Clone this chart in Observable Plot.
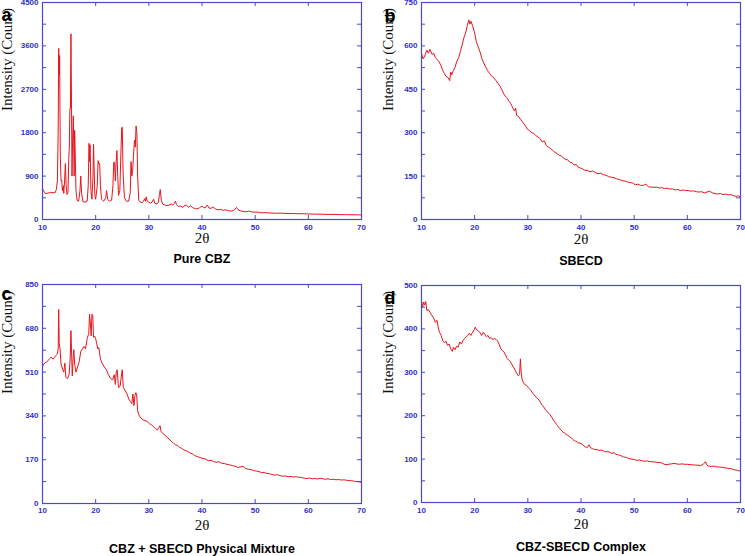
<!DOCTYPE html>
<html><head><meta charset="utf-8">
<script src="https://cdn.jsdelivr.net/npm/d3@7"></script>
<script src="https://cdn.jsdelivr.net/npm/@observablehq/plot@0.6"></script>
<style>
body{margin:0;background:#fff;}
#chart{position:relative;width:745px;height:556px;overflow:hidden;background:#fff;}
#chart svg{position:absolute;overflow:visible;}
</style></head><body><div id="chart"></div>
<script>
// ---- Data: [2θ (degrees), intensity (count)] ----
const pureCbz = [[10,640],[10.2,600],[10.5,540],[11,545],[11.5,560],[12,555],[12.4,560],[12.6,620],[12.8,800],[12.95,1800],[13.05,3550],[13.15,3000],[13.22,3400],[13.35,1300],[13.5,800],[13.6,820],[13.75,600],[13.9,700],[14,540],[14.15,800],[14.3,1160],[14.45,700],[14.6,520],[14.8,560],[14.95,1300],[15.05,1500],[15.15,2300],[15.25,2300],[15.35,3850],[15.45,2500],[15.55,900],[15.65,1600],[15.8,2150],[15.95,900],[16.05,1850],[16.15,1400],[16.3,600],[16.5,400],[16.8,380],[17.05,600],[17.2,900],[17.35,550],[17.6,370],[18,360],[18.4,380],[18.6,700],[18.75,1580],[18.85,1200],[18.95,1550],[19.1,600],[19.3,420],[19.5,900],[19.6,1560],[19.7,1100],[19.85,500],[20,420],[20.3,700],[20.45,1220],[20.6,1150],[20.75,1160],[20.9,700],[21.1,420],[21.5,380],[21.9,450],[22.05,600],[22.25,420],[22.6,380],[23,400],[23.25,700],[23.4,1190],[23.55,1180],[23.7,800],[23.85,1200],[24,1430],[24.15,900],[24.3,500],[24.55,600],[24.75,1400],[24.9,1900],[25,1915],[25.15,1000],[25.4,450],[25.8,380],[26.2,380],[26.5,550],[26.65,1200],[26.8,900],[26.95,1000],[27.1,1300],[27.3,1640],[27.45,1500],[27.6,1940],[27.75,1800],[27.9,900],[28.1,400],[28.4,360],[28.7,350],[29,380],[29.2,430],[29.35,380],[29.5,470],[29.7,380],[30,360],[30.3,340],[30.6,360],[30.9,420],[31.1,340],[31.5,320],[31.8,360],[32,520],[32.15,620],[32.35,400],[32.6,320],[33,300],[33.4,290],[33.8,300],[34.2,320],[34.5,300],[34.8,330],[35,380],[35.2,310],[35.6,270],[36,280],[36.4,250],[36.8,300],[37.1,290],[37.5,250],[37.8,290],[38.2,250],[38.6,230],[39,220],[39.5,240],[40,280],[40.3,250],[40.6,240],[41,300],[41.3,240],[41.7,230],[42.1,260],[42.5,220],[43,200],[43.5,210],[44,190],[44.5,200],[45,180],[45.5,175],[46,190],[46.5,250],[46.8,200],[47.2,180],[47.8,165],[48.3,160],[48.8,175],[49.3,160],[50,150],[50.5,155],[51,140],[52,140],[53,135],[54,130],[55,130],[56,125],[57,125],[58,120],[59,120],[60,115],[61,112],[62,110],[63,108],[64,105],[65,105],[66,100],[67,100],[68,98],[69,97],[70,95]];

const sbecd = [[10,573],[10.3,555],[10.6,565],[11,585],[11.3,575],[11.6,588],[12,570],[12.3,575],[12.6,560],[13,552],[13.3,545],[13.6,535],[14,515],[14.3,505],[14.6,495],[15,490],[15.3,480],[15.5,510],[15.7,500],[16,515],[16.3,525],[16.6,545],[17,560],[17.3,580],[17.6,600],[18,630],[18.3,645],[18.6,670],[18.9,690],[19.1,675],[19.3,685],[19.6,670],[20,645],[20.3,615],[20.6,600],[21,580],[21.3,560],[21.6,545],[22,530],[22.4,515],[22.8,505],[23.2,495],[23.6,490],[24,480],[24.4,470],[24.8,460],[25.2,445],[25.6,430],[26,422],[26.4,410],[26.8,400],[27.2,385],[27.5,375],[27.7,385],[27.9,360],[28.3,355],[28.7,345],[29.1,335],[29.5,325],[29.9,312],[30.3,308],[30.7,300],[31.1,298],[31.5,290],[31.9,285],[32.3,280],[32.7,268],[33.1,272],[33.5,255],[33.9,250],[34.3,245],[34.7,238],[35.1,232],[35.5,228],[35.9,222],[36.3,220],[36.7,212],[37.1,208],[37.5,206],[37.9,198],[38.3,196],[38.7,188],[39.1,190],[39.5,180],[39.9,178],[40.3,175],[40.7,170],[41.2,170],[41.7,165],[42.2,168],[42.7,162],[43.2,158],[43.7,160],[44.2,155],[44.7,153],[45.2,148],[45.7,146],[46.2,145],[46.7,140],[47.2,139],[47.7,134],[48.2,133],[48.7,130],[49.2,128],[49.7,126],[50.2,120],[50.7,122],[51.2,118],[51.7,118],[52.2,122],[52.7,113],[53.2,112],[53.7,111],[54.2,112],[54.7,109],[55.2,110],[55.7,107],[56.2,108],[56.7,105],[57.2,106],[57.7,102],[58.2,104],[58.7,100],[59.2,102],[59.7,100],[60.2,100],[60.7,98],[61.2,99],[61.7,96],[62.2,95],[62.7,96],[63.2,92],[63.7,95],[64.2,98],[64.7,92],[65.2,90],[65.7,88],[66.2,90],[66.7,86],[67.2,88],[67.7,85],[68.2,86],[68.7,82],[69.2,80],[69.6,82],[70,78]];

const physicalMixture = [[10,532],[10.4,545],[10.8,550],[11.2,558],[11.6,568],[12,560],[12.4,572],[12.8,580],[12.95,600],[13.05,753],[13.15,620],[13.3,600],[13.5,540],[13.8,520],[14,510],[14.2,545],[14.4,490],[14.7,485],[15,500],[15.2,560],[15.35,671],[15.45,600],[15.6,495],[15.75,560],[15.9,597],[16.05,540],[16.3,510],[16.6,530],[16.9,550],[17.2,590],[17.5,600],[17.8,610],[18.1,600],[18.4,640],[18.7,660],[18.85,735],[19,700],[19.15,650],[19.3,735],[19.45,730],[19.6,645],[19.8,650],[20,640],[20.2,620],[20.4,600],[20.6,605],[20.9,560],[21.2,545],[21.6,530],[22,520],[22.4,500],[22.8,485],[23.2,480],[23.5,500],[23.7,462],[23.9,515],[24.05,519],[24.3,450],[24.6,455],[24.8,490],[25,519],[25.2,450],[25.5,440],[25.9,425],[26.3,402],[26.6,395],[26.8,388],[27,425],[27.2,380],[27.4,420],[27.55,430],[27.7,425],[27.9,360],[28.1,345],[28.5,332],[28.9,325],[29.3,322],[29.7,318],[30.1,310],[30.5,305],[30.9,298],[31.3,290],[31.6,285],[31.9,295],[32.1,302],[32.3,280],[32.6,272],[33,266],[33.4,258],[33.8,250],[34.2,242],[34.6,235],[35,228],[35.4,225],[35.8,218],[36.2,214],[36.6,208],[37,205],[37.4,200],[37.8,196],[38.2,193],[38.6,186],[39,183],[39.4,180],[39.8,177],[40.2,175],[40.7,172],[41.2,166],[41.7,168],[42.2,163],[42.7,160],[43.2,162],[43.7,156],[44.2,155],[44.7,152],[45.2,150],[45.7,147],[46.2,145],[46.7,140],[47.2,142],[47.7,144],[48.2,136],[48.7,133],[49.2,132],[49.7,128],[50.2,126],[50.7,124],[51.2,120],[51.7,120],[52.2,117],[52.7,116],[53.2,112],[53.7,110],[54.2,112],[54.7,108],[55.2,106],[55.7,107],[56.2,104],[56.7,105],[57.2,103],[57.7,104],[58.2,102],[58.7,101],[59.2,98],[59.7,97],[60.2,99],[60.7,96],[61.2,97],[61.7,95],[62.2,98],[62.7,96],[63.2,94],[63.7,96],[64.2,93],[64.7,94],[65.2,92],[65.7,93],[66.2,91],[66.7,92],[67.2,90],[67.7,89],[68.2,88],[68.7,86],[69.2,85],[69.6,84],[70,82]];

const inclusionComplex = [[10,465],[10.2,450],[10.4,462],[10.6,455],[10.8,463],[11,442],[11.3,445],[11.6,438],[12,430],[12.3,425],[12.6,415],[12.9,420],[13.2,400],[13.4,392],[13.7,385],[14,373],[14.3,368],[14.6,372],[14.9,362],[15.2,365],[15.5,354],[15.8,348],[16,358],[16.3,352],[16.6,360],[16.9,358],[17.2,370],[17.5,365],[17.8,373],[18.1,378],[18.4,382],[18.7,385],[19,390],[19.3,385],[19.6,392],[19.9,398],[20.1,404],[20.4,398],[20.7,395],[21,392],[21.3,385],[21.6,392],[21.9,388],[22.2,382],[22.5,385],[22.8,378],[23.1,380],[23.4,375],[23.7,378],[24,376],[24.3,372],[24.6,365],[24.9,355],[25.2,350],[25.5,347],[25.8,340],[26.1,332],[26.4,328],[26.7,325],[27,318],[27.3,312],[27.6,305],[27.9,298],[28.2,292],[28.45,295],[28.6,331],[28.75,300],[28.9,285],[29.1,278],[29.4,272],[29.7,270],[30,266],[30.3,262],[30.6,258],[30.9,252],[31.2,248],[31.5,243],[31.8,240],[32.1,236],[32.4,230],[32.7,224],[33,220],[33.3,214],[33.6,210],[33.9,206],[34.2,202],[34.5,196],[34.8,190],[35.1,185],[35.4,180],[35.7,175],[36,170],[36.3,167],[36.6,162],[36.9,160],[37.2,157],[37.5,155],[37.8,152],[38.1,150],[38.4,146],[38.7,143],[39,141],[39.3,139],[39.6,137],[40,136],[40.4,132],[40.8,128],[41.2,127],[41.5,133],[41.8,126],[42.2,124],[42.6,122],[43,122],[43.4,120],[43.8,121],[44.2,119],[44.6,117],[45,117],[45.4,116],[45.8,113],[46.2,115],[46.6,111],[47,110],[47.5,108],[48,105],[48.5,104],[49,101],[49.5,100],[50,99],[50.5,97],[51,98],[51.5,96],[52,95],[52.5,96],[53,94],[53.5,94],[54,93],[54.5,92],[55,92],[55.5,89],[56,87],[56.5,88],[57,89],[57.5,90],[58,89],[58.5,88],[59,89],[59.5,88],[60,88],[60.5,87],[61,87],[61.5,86],[62,86],[62.5,85],[63,88],[63.4,94],[63.7,86],[64,84],[64.5,83],[65,84],[65.5,82],[66,82],[66.5,81],[67,80],[67.5,79],[68,78],[68.5,77],[69,75],[69.5,74],[70,72]];

const xTicks = [10, 20, 30, 40, 50, 60, 70];
const yTicksA = [0, 900, 1800, 2700, 3600, 4500];
const yTicksB = [0, 150, 300, 450, 600, 750];
const yTicksC = [0, 170, 340, 510, 680, 850];
const yTicksD = [0, 100, 200, 300, 400, 500];
const captions = ["Pure CBZ", "SBECD", "CBZ + SBECD Physical Mixture", "CBZ-SBECD Complex"];
const letters = ["a", "b", "c", "d"];
const xLabel = "2θ";
const yLabel = "Intensity (Count)";

// ---- Layout ----
const BLUE = "#4848d0";
const TICKBLUE = "#3030c8";
const RED = "#e8141c";
const panels = [
  {data: pureCbz, yTicks: yTicksA, left: 0, top: 0, width: 372, height: 278, mL: 42, mR: 11, mT: 2, mB: 59, tickDy: 10, labDy: 23, capDy: 43, yLabDx: -35, letDx: -41, letDy: 5.7},
  {data: sbecd, yTicks: yTicksB, left: 372, top: 0, width: 373, height: 278, mL: 49, mR: 5, mT: 2, mB: 59, tickDy: 10, labDy: 24, capDy: 45, yLabDx: -33, letDx: -37, letDy: 6.7},
  {data: physicalMixture, yTicks: yTicksC, left: 0, top: 278, width: 372, height: 278, mL: 42, mR: 11, mT: 6, mB: 53, tickDy: 9, labDy: 26, capDy: 49, yLabDx: -35.5, letDx: -41, letDy: 3.2},
  {data: inclusionComplex, yTicks: yTicksD, left: 372, top: 278, width: 373, height: 278, mL: 49, mR: 5, mT: 7, mB: 54, tickDy: 10, labDy: 26, capDy: 48, yLabDx: -33, letDx: -37, letDy: 6.2}
];

const chart = document.getElementById("chart");
panels.forEach((p, i) => {
  const yMax = p.yTicks[p.yTicks.length - 1];
  const frameH = p.height - p.mT - p.mB;
  const frameW = p.width - p.mL - p.mR;
  const tx = 60 * 4 / frameW;      // 4px inward tick, in x units
  const ty = yMax * 4 / frameH;    // 4px inward tick, in y units
  const step = p.yTicks[1] - p.yTicks[0];
  const yTickMarks = [];
  p.yTicks.forEach((v, k) => { yTickMarks.push(v); if (k < p.yTicks.length - 1) yTickMarks.push(v + step / 2); });
  const xInner = xTicks.slice(1, -1);
  const svg = Plot.plot({
    width: p.width, height: p.height,
    marginLeft: p.mL, marginRight: p.mR, marginTop: p.mT, marginBottom: p.mB,
    style: {background: "transparent", overflow: "visible"},
    x: {domain: [10, 70], axis: null},
    y: {domain: [0, yMax], axis: null},
    marks: [
      Plot.line(p.data, {x: d => d[0], y: d => d[1], stroke: RED, strokeWidth: 1}),
      Plot.ruleY(yTickMarks, {y: d => d, x1: 10, x2: 10 + tx, stroke: BLUE}),
      Plot.ruleY(yTickMarks, {y: d => d, x1: 70 - tx, x2: 70, stroke: BLUE}),
      Plot.ruleX(xInner, {x: d => d, y1: 0, y2: ty, stroke: BLUE}),
      Plot.ruleX(xInner, {x: d => d, y1: yMax - ty, y2: yMax, stroke: BLUE}),
      Plot.frame({stroke: BLUE, strokeWidth: 1.2}),
      Plot.text(xTicks, {x: d => d, frameAnchor: "bottom", dy: p.tickDy, text: d => String(d), fontSize: 8, fontWeight: "bold", fontFamily: "Liberation Sans, Arial, sans-serif", fill: TICKBLUE}),
      Plot.text(p.yTicks, {y: d => d, frameAnchor: "left", dx: -4, textAnchor: "end", text: d => String(d), fontSize: 8, fontWeight: "bold", fontFamily: "Liberation Sans, Arial, sans-serif", fill: TICKBLUE}),
      Plot.text([xLabel], {frameAnchor: "bottom", dy: p.labDy, text: d => d, fontSize: 15, fontFamily: "Liberation Serif, Times New Roman, serif", fill: "#111"}),
      Plot.text([captions[i]], {frameAnchor: "bottom", dy: p.capDy, text: d => d, fontSize: 12.5, fontWeight: "bold", fontFamily: "Liberation Sans, Arial, sans-serif", fill: "#000"}),
      Plot.text([yLabel], {frameAnchor: "left", dx: p.yLabDx, rotate: -90, text: d => d, fontSize: 15, fontFamily: "Liberation Serif, Times New Roman, serif", fill: "#111"}),
      Plot.text([letters[i]], {frameAnchor: "top-left", dx: p.letDx, dy: p.letDy, textAnchor: "start", text: d => d, fontSize: 18, fontWeight: "bold", fontFamily: "Liberation Sans, Arial, sans-serif", fill: "#000"})
    ]
  });
  svg.style.left = p.left + "px";
  svg.style.top = p.top + "px";
  chart.appendChild(svg);
});
</script>
</body></html>
